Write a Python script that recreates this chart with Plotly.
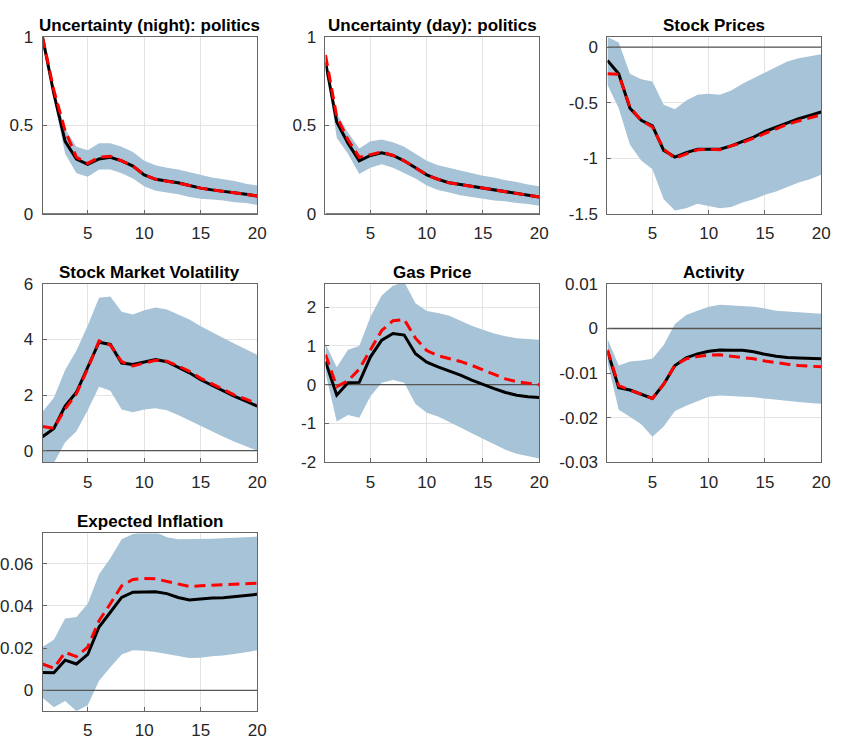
import plotly.graph_objects as go

W, H = 845, 754
horizon = list(range(1, 21))

titles = ["Uncertainty (night): politics", "Uncertainty (day): politics", "Stock Prices",
          "Stock Market Volatility", "Gas Price", "Activity", "Expected Inflation"]

# Panel 1: Uncertainty (night)
unc_night_median = [1.0, 0.68, 0.41, 0.31, 0.28, 0.31, 0.32, 0.30, 0.27, 0.22, 0.195, 0.185, 0.175, 0.16, 0.145, 0.135, 0.128, 0.12, 0.11, 0.10]
unc_night_alt = [1.0, 0.70, 0.47, 0.32, 0.285, 0.32, 0.325, 0.30, 0.27, 0.22, 0.195, 0.185, 0.173, 0.16, 0.145, 0.135, 0.128, 0.12, 0.11, 0.10]
unc_night_upper = [1.0, 0.70, 0.48, 0.38, 0.36, 0.40, 0.40, 0.38, 0.35, 0.30, 0.275, 0.26, 0.25, 0.235, 0.22, 0.205, 0.195, 0.185, 0.17, 0.16]
unc_night_lower = [1.0, 0.65, 0.34, 0.23, 0.21, 0.25, 0.25, 0.23, 0.20, 0.155, 0.13, 0.12, 0.11, 0.095, 0.085, 0.08, 0.075, 0.065, 0.06, 0.05]

# Panel 2: Uncertainty (day)
unc_day_median = [0.86, 0.52, 0.40, 0.30, 0.33, 0.345, 0.33, 0.30, 0.26, 0.22, 0.195, 0.175, 0.165, 0.155, 0.145, 0.135, 0.125, 0.115, 0.105, 0.095]
unc_day_alt = [0.90, 0.55, 0.42, 0.32, 0.335, 0.35, 0.33, 0.30, 0.26, 0.22, 0.195, 0.175, 0.165, 0.155, 0.145, 0.135, 0.125, 0.115, 0.105, 0.095]
unc_day_upper = [0.86, 0.57, 0.46, 0.37, 0.41, 0.42, 0.405, 0.38, 0.34, 0.30, 0.275, 0.26, 0.245, 0.23, 0.215, 0.205, 0.19, 0.18, 0.165, 0.155]
unc_day_lower = [0.86, 0.43, 0.34, 0.225, 0.26, 0.28, 0.26, 0.23, 0.20, 0.16, 0.135, 0.12, 0.105, 0.095, 0.085, 0.075, 0.07, 0.06, 0.055, 0.045]

# Panel 3: Stock Prices
stock_median = [-0.12, -0.24, -0.55, -0.66, -0.71, -0.93, -0.99, -0.95, -0.92, -0.92, -0.92, -0.89, -0.85, -0.81, -0.76, -0.72, -0.68, -0.645, -0.615, -0.585]
stock_alt = [-0.24, -0.245, -0.54, -0.66, -0.72, -0.92, -1.0, -0.96, -0.925, -0.92, -0.925, -0.89, -0.86, -0.82, -0.78, -0.735, -0.695, -0.665, -0.635, -0.61]
stock_upper = [0.09, 0.04, -0.24, -0.29, -0.31, -0.52, -0.56, -0.48, -0.43, -0.42, -0.43, -0.39, -0.33, -0.28, -0.23, -0.18, -0.13, -0.10, -0.08, -0.065]
stock_lower = [-0.34, -0.55, -0.88, -1.02, -1.10, -1.37, -1.47, -1.45, -1.41, -1.43, -1.45, -1.44, -1.40, -1.37, -1.33, -1.30, -1.26, -1.22, -1.19, -1.15]

# Panel 4: Stock Market Volatility
vol_median = [0.5, 0.8, 1.6, 2.1, 3.0, 3.9, 3.82, 3.15, 3.1, 3.2, 3.28, 3.2, 3.0, 2.8, 2.55, 2.35, 2.15, 1.95, 1.78, 1.6]
vol_alt = [0.87, 0.8, 1.5, 2.05, 2.95, 3.95, 3.8, 3.2, 3.05, 3.15, 3.25, 3.22, 3.05, 2.85, 2.6, 2.4, 2.2, 2.0, 1.85, 1.68]
vol_upper = [1.4, 1.9, 2.9, 3.6, 4.5, 5.5, 5.55, 5.0, 4.9, 5.05, 5.15, 5.08, 4.9, 4.72, 4.48, 4.25, 4.05, 3.85, 3.65, 3.45]
vol_lower = [-0.6, -0.45, 0.3, 0.7, 1.45, 2.3, 2.15, 1.48, 1.38, 1.48, 1.52, 1.45, 1.28, 1.08, 0.88, 0.7, 0.5, 0.32, 0.15, 0.0]

# Panel 5: Gas Price
gas_median = [0.6, -0.27, 0.05, 0.06, 0.72, 1.15, 1.32, 1.28, 0.8, 0.58, 0.46, 0.36, 0.25, 0.12, 0.0, -0.1, -0.2, -0.27, -0.31, -0.33]
gas_alt = [0.78, -0.05, 0.1, 0.4, 0.9, 1.4, 1.65, 1.68, 1.2, 0.88, 0.75, 0.68, 0.6, 0.5, 0.38, 0.28, 0.15, 0.08, 0.03, 0.0]
gas_upper = [1.05, 0.45, 0.9, 1.0, 1.75, 2.3, 2.55, 2.65, 2.1, 1.9, 1.85, 1.78, 1.65, 1.52, 1.42, 1.32, 1.25, 1.2, 1.18, 1.16]
gas_lower = [0.3, -0.95, -0.78, -0.85, -0.3, 0.05, 0.12, 0.05, -0.5, -0.72, -0.82, -0.95, -1.1, -1.25, -1.4, -1.55, -1.68, -1.78, -1.85, -1.9]

# Panel 6: Activity
act_median = [-0.005, -0.0133, -0.0138, -0.0148, -0.0157, -0.0125, -0.0083, -0.0066, -0.0057, -0.0051, -0.0048, -0.0049, -0.0049, -0.0052, -0.0058, -0.0062, -0.0065, -0.0066, -0.0067, -0.0068]
act_alt = [-0.0048, -0.0128, -0.0138, -0.0148, -0.0157, -0.0125, -0.0082, -0.0068, -0.0063, -0.006, -0.0059, -0.0062, -0.0065, -0.0068, -0.0073, -0.0077, -0.008, -0.0083, -0.0084, -0.0086]
act_upper = [-0.0023, -0.0083, -0.0074, -0.0072, -0.0068, -0.0037, 0.001, 0.003, 0.004, 0.0049, 0.0053, 0.0052, 0.0051, 0.0049, 0.0045, 0.004, 0.0038, 0.0036, 0.0034, 0.0033]
act_lower = [-0.0075, -0.0182, -0.0198, -0.0215, -0.0243, -0.022, -0.0185, -0.0173, -0.0163, -0.0153, -0.015, -0.0151, -0.0152, -0.0154, -0.0157, -0.016, -0.0163, -0.0165, -0.0167, -0.0169]

# Panel 7: Expected Inflation
infl_median = [0.0085, 0.0083, 0.0143, 0.0125, 0.017, 0.030, 0.037, 0.044, 0.0465, 0.0467, 0.0467, 0.0458, 0.044, 0.0428, 0.0433, 0.0437, 0.0438, 0.0443, 0.0448, 0.0455]
infl_alt = [0.0125, 0.0105, 0.018, 0.016, 0.0205, 0.033, 0.041, 0.0495, 0.0525, 0.053, 0.0528, 0.0515, 0.0502, 0.0492, 0.0495, 0.0497, 0.05, 0.0503, 0.0505, 0.0507]
infl_upper = [0.0205, 0.024, 0.034, 0.0347, 0.041, 0.055, 0.0625, 0.0715, 0.074, 0.075, 0.075, 0.0725, 0.0715, 0.0715, 0.0717, 0.0718, 0.072, 0.0722, 0.0725, 0.0728]
infl_lower = [-0.0035, -0.008, -0.005, -0.0098, -0.007, 0.0045, 0.011, 0.017, 0.019, 0.0188, 0.0182, 0.0172, 0.016, 0.0153, 0.0155, 0.0162, 0.0165, 0.0172, 0.018, 0.019]

x_tickvals = [5, 10, 15, 20]
y_ranges = [[0, 1], [0, 1], [-1.5, 0.088], [-0.42, 6], [-2, 2.6], [-0.03, 0.01], [-0.0097, 0.0743]]
y_tickvals = [[0, 0.5, 1], [0, 0.5, 1], [-1.5, -1, -0.5, 0], [0, 2, 4, 6], [-2, -1, 0, 1, 2],
              [-0.03, -0.02, -0.01, 0, 0.01], [0, 0.02, 0.04, 0.06]]
y_ticktext = [["0", "0.5", "1"], ["0", "0.5", "1"], ["-1.5", "-1", "-0.5", "0"], ["0", "2", "4", "6"],
              ["-2", "-1", "0", "1", "2"], ["-0.03", "-0.02", "-0.01", "0", "0.01"], ["0", "0.02", "0.04", "0.06"]]

panels = [
    (unc_night_median, unc_night_alt, unc_night_upper, unc_night_lower),
    (unc_day_median, unc_day_alt, unc_day_upper, unc_day_lower),
    (stock_median, stock_alt, stock_upper, stock_lower),
    (vol_median, vol_alt, vol_upper, vol_lower),
    (gas_median, gas_alt, gas_upper, gas_lower),
    (act_median, act_alt, act_upper, act_lower),
    (infl_median, infl_alt, infl_upper, infl_lower),
]

# pixel layout of axes boxes
col_px = [(43, 260), (329, 545), (614, 830)]
row_px = [(29, 210), (282, 465), (538, 720)]

BAND = "#a7c3d7"
TICK_COLOR = "#262626"
FONT = "Liberation Sans, Arial, sans-serif"

fig = go.Figure()
layout = dict(
    width=W, height=H, margin=dict(l=0, r=0, t=0, b=0),
    paper_bgcolor="white", plot_bgcolor="white", showlegend=False,
    font=dict(family=FONT, size=17, color=TICK_COLOR),
)
annotations = []

for i, (med, alt, up, lo) in enumerate(panels):
    r, c = divmod(i, 3)
    x0, x1 = col_px[c]
    y0, y1 = row_px[r]
    n = i + 1
    xa = "x" if n == 1 else f"x{n}"
    ya = "y" if n == 1 else f"y{n}"
    fig.add_trace(go.Scatter(x=horizon, y=lo, xaxis=xa, yaxis=ya, mode="lines",
                             line=dict(width=0, color=BAND), hoverinfo="skip"))
    fig.add_trace(go.Scatter(x=horizon, y=up, xaxis=xa, yaxis=ya, mode="lines", fill="tonexty",
                             fillcolor=BAND, line=dict(width=0, color=BAND), hoverinfo="skip"))
    fig.add_trace(go.Scatter(x=[horizon[0], horizon[-1]], y=[0, 0], xaxis=xa, yaxis=ya, mode="lines",
                             line=dict(width=1.3, color="#555555"), hoverinfo="skip"))
    fig.add_trace(go.Scatter(x=horizon, y=med, xaxis=xa, yaxis=ya, mode="lines",
                             line=dict(width=3, color="black")))
    fig.add_trace(go.Scatter(x=horizon, y=alt, xaxis=xa, yaxis=ya, mode="lines",
                             line=dict(width=3, color="#ff0000", dash="11px,6px")))

    axkey_x = "xaxis" if n == 1 else f"xaxis{n}"
    axkey_y = "yaxis" if n == 1 else f"yaxis{n}"
    layout[axkey_x] = dict(
        domain=[x0 / W, x1 / W], range=[1, 20], anchor=ya,
        tickvals=x_tickvals, ticks="inside", ticklen=4, tickcolor="#666666",
        showgrid=True, gridcolor="#e3e3e3", gridwidth=1, zeroline=False,
        showline=True, linecolor="#666666", linewidth=1, mirror=True,
        tickfont=dict(size=17, color=TICK_COLOR), ticklabelstandoff=4,
    )
    layout[axkey_y] = dict(
        domain=[1 - y1 / H, 1 - y0 / H], range=y_ranges[i], anchor=xa,
        tickvals=y_tickvals[i], ticktext=y_ticktext[i], ticks="inside", ticklen=4, tickcolor="#666666",
        showgrid=True, gridcolor="#e3e3e3", gridwidth=1, zeroline=False,
        showline=True, linecolor="#666666", linewidth=1, mirror=True,
        tickfont=dict(size=17, color=TICK_COLOR), ticklabelstandoff=5,
    )
    annotations.append(dict(
        text=f"<b>{titles[i]}</b>", xref="paper", yref="paper",
        x=(x0 + x1) / 2 / W, y=1 - (y0 - 12) / H, xanchor="center", yanchor="middle",
        showarrow=False, font=dict(family=FONT, size=17, color="black"),
    ))

layout["annotations"] = annotations
fig.update_layout(**layout)
fig.write_html("out.html", post_script="document.body.style.margin='0';")
